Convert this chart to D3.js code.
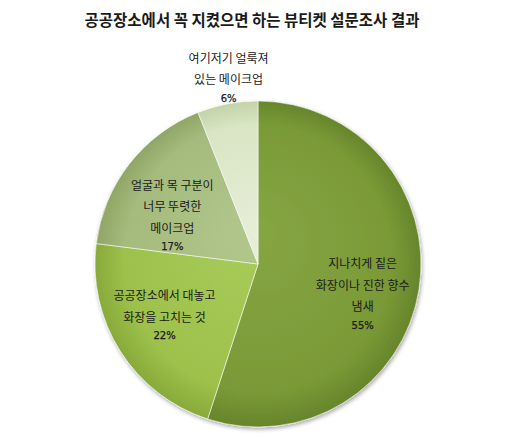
<!DOCTYPE html>
<html>
<head>
<meta charset="utf-8">
<script src="https://cdn.jsdelivr.net/npm/d3@7"></script>
<style>
  body { margin: 0; background: #fff; }
  svg text { font-family: "Noto Sans CJK KR", "Noto Sans", sans-serif; fill: #1a1a1a; }
</style>
</head>
<body>
<svg id="chart" width="520" height="439"></svg>
<script>
// survey data
const categories = [
  "지나치게 짙은 화장이나 진한 향수 냄새",
  "공공장소에서 대놓고 화장을 고치는 것",
  "얼굴과 목 구분이 너무 뚜렷한 메이크업",
  "여기저기 얼룩져 있는 메이크업"
];
const values = [55, 22, 17, 6];
const labelLines = [
  ["지나치게 짙은", "화장이나 진한 향수", "냄새"],
  ["공공장소에서 대놓고", "화장을 고치는 것"],
  ["얼굴과 목 구분이", "너무 뚜렷한", "메이크업"],
  ["여기저기 얼룩져", "있는 메이크업"]
];
const title = "공공장소에서 꼭 지켰으면 하는 뷰티켓 설문조사 결과";

// light, base, dark for each slice
const sliceColors = [
  ["#86a543", "#7a9a37", "#67852b"],
  ["#a9cc5b", "#9dc14b", "#88aa3a"],
  ["#b2c78c", "#a5bb7d", "#8fa667"],
  ["#e6eed7", "#d9e5c4", "#c3d3a8"]
];

const svg = d3.select("#chart");
const cx = 258, cy = 264, r = 163;

svg.append("text")
    .attr("x", 252)
    .attr("y", 26)
    .attr("text-anchor", "middle")
    .style("font-size", "15.5px")
    .style("font-weight", "bold")
    .text(title);

const defs = svg.append("defs");

const shadow = defs.append("filter").attr("id", "shadow")
    .attr("x", "-10%").attr("y", "-10%").attr("width", "120%").attr("height", "120%");
shadow.append("feGaussianBlur").attr("in", "SourceAlpha").attr("stdDeviation", 2);
shadow.append("feOffset").attr("dx", 1).attr("dy", 2).attr("result", "blur");
shadow.append("feComponentTransfer").append("feFuncA").attr("type", "linear").attr("slope", 0.35);
const merge = shadow.append("feMerge");
merge.append("feMergeNode");
merge.append("feMergeNode").attr("in", "SourceGraphic");

sliceColors.forEach((c, i) => {
  const g = defs.append("radialGradient")
      .attr("id", "grad" + i)
      .attr("gradientUnits", "userSpaceOnUse")
      .attr("cx", 0).attr("cy", 0).attr("r", r)
      .attr("fx", 0).attr("fy", -r * 0.2);
  g.append("stop").attr("offset", "0%").attr("stop-color", c[0]);
  g.append("stop").attr("offset", "82%").attr("stop-color", c[1]);
  g.append("stop").attr("offset", "100%").attr("stop-color", c[2]);
});

const pie = d3.pie().sort(null).value(d => d);
const arcs = pie(values);
const arc = d3.arc().innerRadius(0).outerRadius(r);
const labelArc = d3.arc().innerRadius(r * 0.65).outerRadius(r * 0.65);
const outerArc = d3.arc().innerRadius(r * 1.16).outerRadius(r * 1.16);
// excel's best-fit placement drifts a bit from the centroid
const labelShift = [[0, 14], [-4, -5], [-2, 17], [6, 0]];

const g = svg.append("g").attr("transform", `translate(${cx},${cy})`);

g.append("g").attr("filter", "url(#shadow)")
  .selectAll("path")
  .data(arcs)
  .join("path")
    .attr("d", arc)
    .attr("fill", (d, i) => `url(#grad${i})`)
    .attr("stroke", "rgba(255,255,255,0.55)")
    .attr("stroke-width", 1);

const lineH = 21.5;
const labels = g.selectAll("g.label")
  .data(arcs)
  .join("g")
    .attr("class", "label")
    .attr("transform", (d, i) => {
      const inside = (d.endAngle - d.startAngle) > 0.5;
      const p = inside ? labelArc.centroid(d) : outerArc.centroid(d);
      return `translate(${p[0] + labelShift[i][0]},${p[1] + labelShift[i][1]})`;
    });

labels.each(function(d, i) {
  const lines = labelLines[i];
  const total = lines.length * lineH + 16;
  const top = -total / 2;
  const sel = d3.select(this);
  lines.forEach((t, k) => {
    sel.append("text")
        .attr("x", 0)
        .attr("y", top + k * lineH + 14)
        .attr("text-anchor", "middle")
        .style("font-size", "12px")
        .text(t);
  });
  sel.append("text")
      .attr("x", 0)
      .attr("y", top + lines.length * lineH + 10)
      .attr("text-anchor", "middle")
      .style("font-size", "10px")
      .style("font-family", "'DejaVu Sans', sans-serif")
      .style("stroke", "#1a1a1a")
      .style("stroke-width", 0.25)
      .text(values[i] + "%");
});
</script>
</body>
</html>
